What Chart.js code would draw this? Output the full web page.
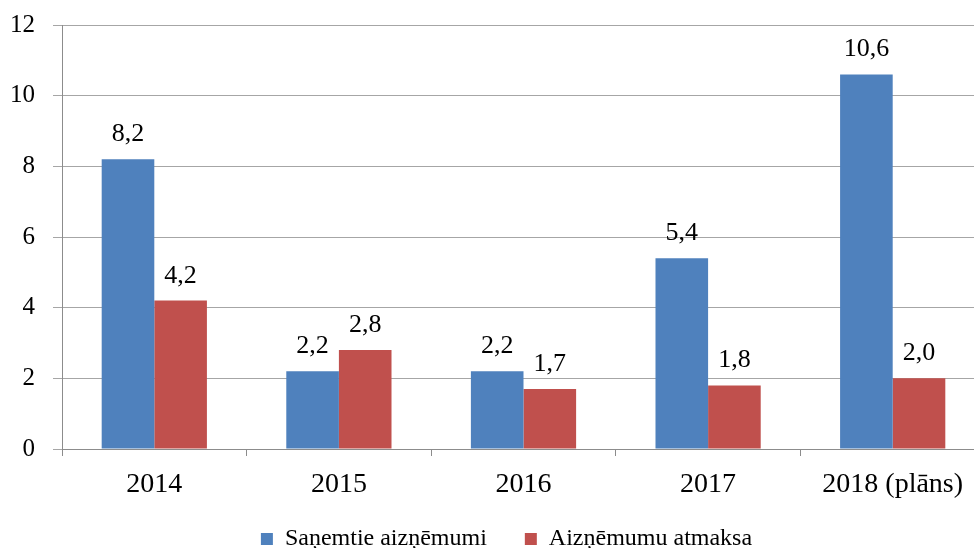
<!DOCTYPE html>
<html>
<head>
<meta charset="utf-8">
<script src="https://cdn.jsdelivr.net/npm/chart.js@4/dist/chart.umd.min.js"></script>
<style>
  html, body { margin: 0; padding: 0; background: #fff; overflow: hidden; }
  #wrap { width: 985px; height: 548px; }
</style>
</head>
<body>
<div id="wrap"><canvas id="chart" width="985" height="548"></canvas></div>
<script>
const gadi = ['2014', '2015', '2016', '2017', '2018 (plāns)'];
const sanemtie = [8.2, 2.2, 2.2, 5.4, 10.6];
const atmaksa = [4.2, 2.8, 1.7, 1.8, 2.0];
const yTicks = [0, 2, 4, 6, 8, 10, 12];

const fonts = "'Liberation Serif', 'Times New Roman', serif";

// vērtības virs stabiņiem
const vertibas = {
    id: 'vertibas',
    afterDatasetsDraw(chart) {
        const ctx = chart.ctx;
        ctx.save();
        ctx.font = '26px ' + fonts;
        ctx.fillStyle = '#000';
        ctx.textAlign = 'center';
        ctx.textBaseline = 'alphabetic';
        chart.data.datasets.forEach((ds, i) => {
            chart.getDatasetMeta(i).data.forEach((bar, j) => {
                ctx.fillText(ds.data[j].toFixed(1).replace('.', ','), bar.x, bar.y - 18);
            });
        });
        ctx.restore();
    }
};

// leģendu pabīda nedaudz augšup un pa labi
const legendaVieta = {
    id: 'legendaVieta',
    afterLayout(chart) {
        const lg = chart.legend;
        lg.top -= 12; lg.bottom -= 12;
        lg.left += 14; lg.right += 14;
    }
};

const ctx = document.getElementById('chart').getContext('2d');
new Chart(ctx, {
    type: 'bar',
    data: {
        labels: gadi,
        datasets: [{
            label: 'Saņemtie aizņēmumi',
            data: sanemtie,
            backgroundColor: '#4F81BD',
            categoryPercentage: 0.57,
            barPercentage: 1.0
        }, {
            label: 'Aizņēmumu atmaksa',
            data: atmaksa,
            backgroundColor: '#C0504D',
            categoryPercentage: 0.57,
            barPercentage: 1.0
        }]
    },
    options: {
        responsive: false,
        animation: false,
        layout: { padding: { top: 25, left: 0, right: 0, bottom: -25 } },
        plugins: {
            tooltip: { enabled: false },
            legend: {
                position: 'bottom',
                labels: {
                    boxWidth: 12,
                    boxHeight: 12,
                    padding: 38,
                    color: '#000',
                    font: { family: fonts, size: 24 }
                }
            }
        },
        scales: {
            x: {
                grid: { display: true, drawOnChartArea: false, tickLength: 7, color: '#8C8C8C', offset: true },
                border: { color: '#8C8C8C', width: 1 },
                ticks: { color: '#000', font: { family: fonts, size: 28 }, padding: 12, maxRotation: 0 },
                afterFit(scale) { scale.height = 52; }
            },
            y: {
                min: 0,
                max: 12,
                afterBuildTicks(scale) { scale.ticks = yTicks.map(v => ({ value: v })); },
                grid: { display: true, tickLength: 9, color: '#A6A6A6' },
                border: { color: '#8C8C8C', width: 1 },
                ticks: { color: '#000', font: { family: fonts, size: 25 }, padding: 18 },
                afterFit(scale) {
                    scale.width = 62;
                    scale.paddingTop = 0;
                    scale.paddingBottom = 0;
                }
            }
        }
    },
    plugins: [vertibas, legendaVieta]
});
</script>
</body>
</html>
